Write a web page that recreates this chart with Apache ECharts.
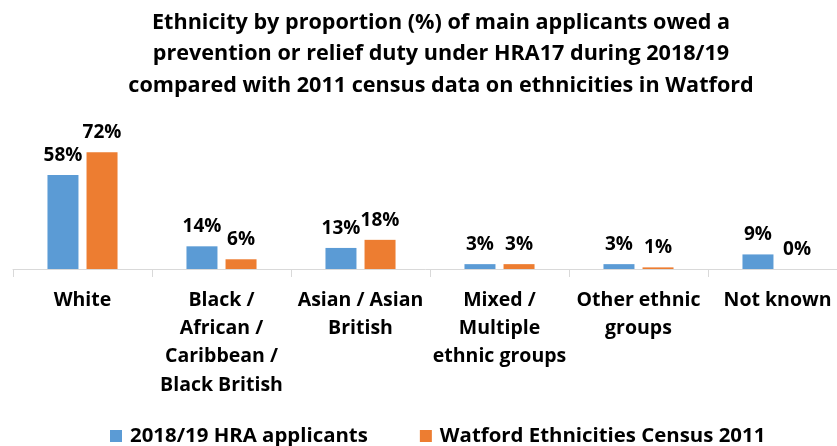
<!DOCTYPE html>
<html><head><meta charset="utf-8">
<script src="https://cdn.jsdelivr.net/npm/echarts@6/dist/echarts.min.js"></script>
<style>html,body{margin:0;padding:0;background:#fff}#c{width:837px;height:446px}</style>
</head><body><div id="c"></div>
<script>
const titleText = "Ethnicity by proportion (%) of main applicants owed a\nprevention or relief duty under HRA17 during 2018/19\ncompared with 2011 census data on ethnicities in Watford";
const categories = ["White", "Black /\nAfrican /\nCaribbean /\nBlack British", "Asian / Asian\nBritish", "Mixed /\nMultiple\nethnic groups", "Other ethnic\ngroups", "Not known"];
const seriesNames = ["2018/19 HRA applicants", "Watford Ethnicities Census 2011"];
const hraValues = [58, 14, 13, 3, 3, 9];
const censusValues = [72, 6, 18, 3, 1, 0];

const FONT = "Open Sans";
const chart = echarts.init(document.getElementById('c'));
chart.setOption({
  backgroundColor: '#fff',
  animation: false,
  textStyle: { fontFamily: FONT },
  title: {
    text: titleText,
    left: 436,
    textAlign: 'center',
    top: 2,
    textStyle: { fontFamily: FONT, fontWeight: 'bold', fontSize: 21.6, lineHeight: 31.5, color: '#000' }
  },
  legend: {
    top: 421,
    left: 105,
    itemWidth: 12,
    itemHeight: 12,
    itemGap: 52,
    icon: 'rect',
    textStyle: { fontFamily: FONT, fontWeight: 'bold', fontSize: 20.4, lineHeight: 20, color: '#000', padding: [0, 0, 0, 3] },
    data: seriesNames
  },
  grid: { left: 13, width: 834, top: 139.4, height: 129.6, outerBoundsMode: 'none', containLabel: false },
  xAxis: {
    type: 'category',
    data: categories,
    axisLine: { lineStyle: { color: '#D9D9D9', width: 1 } },
    axisTick: { show: true, length: 8, lineStyle: { color: '#D9D9D9' } },
    axisLabel: { interval: 0, margin: 17, fontFamily: FONT, fontWeight: 'bold', fontSize: 19.5, lineHeight: 28.3, color: '#000' }
  },
  yAxis: { type: 'value', min: 0, max: 80, show: false, splitLine: { show: false } },
  series: [
    {
      name: seriesNames[0], type: 'bar', data: hraValues,
      barWidth: 31, barGap: '26%', itemStyle: { color: '#5B9BD5' },
      label: { show: true, position: 'top', distance: 10, formatter: '{c}%', fontFamily: FONT, fontWeight: 'bold', fontSize: 19, color: '#000' }
    },
    {
      name: seriesNames[1], type: 'bar', data: censusValues,
      barWidth: 31, barGap: '26%', itemStyle: { color: '#ED7D31' },
      label: { show: true, position: 'top', distance: 10, formatter: '{c}%', fontFamily: FONT, fontWeight: 'bold', fontSize: 19, color: '#000' }
    }
  ]
});
</script></body></html>
